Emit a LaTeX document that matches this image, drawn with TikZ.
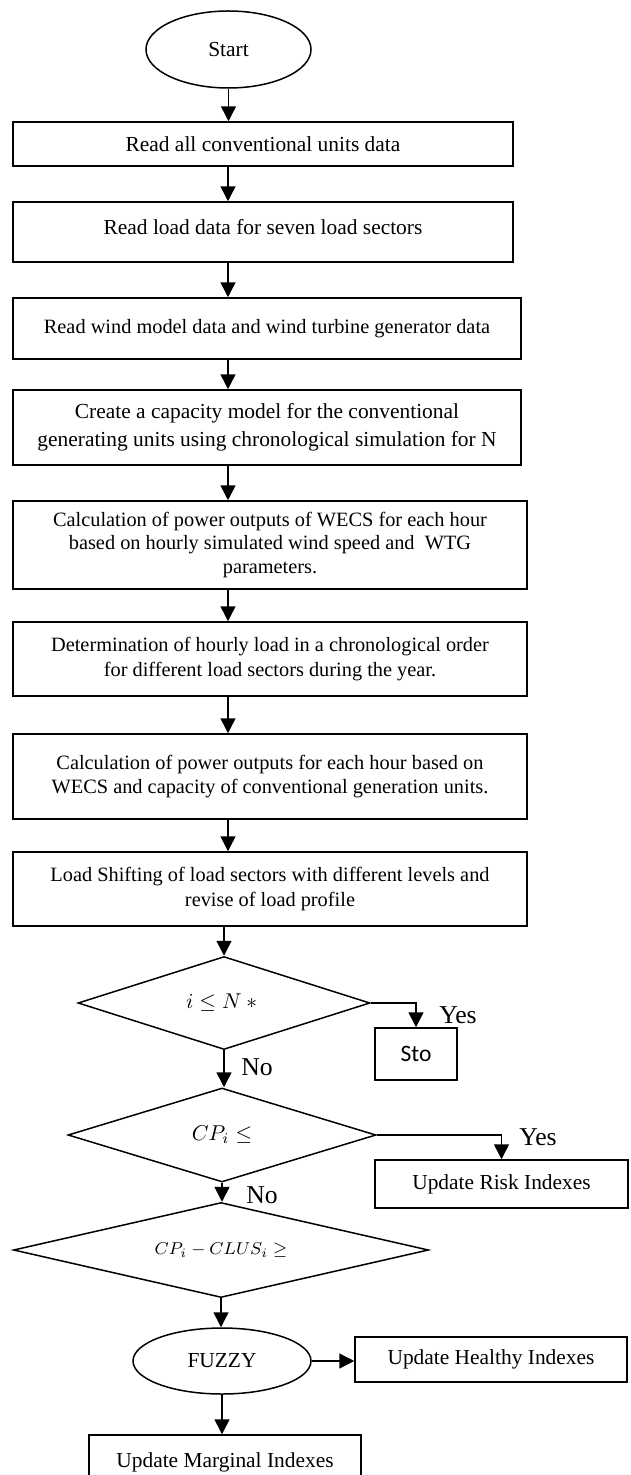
\documentclass[tikz,border=0pt]{standalone}
\usepackage{fontspec}
\setmainfont{Liberation Serif}
\newfontfamily\stofont{Carlito}
\usetikzlibrary{arrows.meta,shapes.geometric,calc}
\newcommand{\Upx}{0.467pt}

\begin{document}
\begin{tikzpicture}[x=\Upx,y=-\Upx,line width=0.7pt,
  proc/.style={draw,rectangle,align=center,inner sep=0pt},
  term/.style={draw,ellipse,inner sep=0pt},
  decn/.style={draw,diamond,inner sep=0pt},
  flow/.style={-{Triangle[length=7pt,width=7pt]}},
  yesno/.style={font=\rmfamily\fontsize{12}{14}\selectfont},
  small/.style={font=\fontsize{9.5}{11.5}\selectfont}]
\useasboundingbox (0,0) rectangle (630,1475);

\node[term,minimum width=165*\Upx,minimum height=77*\Upx] (start) at (228.5,49.5) {Start};

\node[proc,minimum width=500*\Upx,minimum height=44*\Upx] (rdunits) at (263,144) {Read all conventional units data};
\node[proc,minimum width=500*\Upx,minimum height=60*\Upx,text depth=4.6pt] (rdload) at (263,232) {Read load data for seven load sectors};
\node[proc,small,minimum width=508*\Upx,minimum height=61*\Upx] (rdwind) at (267,328.5) {Read wind model data and wind turbine generator data};
\node[proc,minimum width=508*\Upx,minimum height=75*\Upx,font=\fontsize{10}{13}\selectfont] (capmod) at (267,427.5) {Create a capacity model for the conventional\\generating units using chronological simulation for N};
\node[proc,minimum width=514*\Upx,minimum height=88*\Upx,font=\fontsize{9.5}{10.8}\selectfont] (wecs) at (270,545) {Calculation of power outputs of WECS for each hour\\based on hourly simulated wind speed and~~WTG\\parameters.};
\node[proc,small,minimum width=514*\Upx,minimum height=74*\Upx] (hrload) at (270,659) {Determination of hourly load in a chronological order\\for different load sectors during the year.};
\node[proc,small,minimum width=514*\Upx,minimum height=85*\Upx] (pwout) at (270,776.5) {Calculation of power outputs for each hour based on\\WECS and capacity of conventional generation units.};
\node[proc,small,minimum width=514*\Upx,minimum height=74*\Upx] (ldshift) at (270,889) {Load Shifting of load sectors with different levels and\\revise of load profile};

\node[decn,aspect=3.14,minimum width=292*\Upx,minimum height=93*\Upx] (chkN) at (224,1003) {$i \leq N \mathbin{*}{}$};
\node[proc,minimum width=82*\Upx,minimum height=52*\Upx,font=\stofont\fontsize{11}{13}\selectfont] (sto) at (416,1054) {Sto};
\node[decn,aspect=3.28,minimum width=308*\Upx,minimum height=94*\Upx] (chkCP) at (222,1135) {$CP_i \leq$};
\node[proc,minimum width=253*\Upx,minimum height=48*\Upx] (risk) at (501.5,1184) {Update Risk Indexes};
\node[decn,aspect=4.37,minimum width=415*\Upx,minimum height=95*\Upx,font=\fontsize{8}{10}\selectfont] (chkCL) at (221,1250) {$CP_i - CLUS_i \geq$};

\node[term,minimum width=178*\Upx,minimum height=66*\Upx] (fuzzy) at (222,1361) {FUZZY};
\node[proc,minimum width=272*\Upx,minimum height=45*\Upx] (healthy) at (491,1359.5) {Update Healthy Indexes};
\node[proc,minimum width=272*\Upx,minimum height=55*\Upx] (marginal) at (225,1462.5) {Update Marginal Indexes};

\node[yesno] (yes1) at (458,1015) {Yes};
\node[yesno] (no1) at (257,1067) {No};
\node[yesno] (yes2) at (538,1137) {Yes};
\node[yesno] (no2) at (262,1195) {No};

\coordinate (col) at (228,0);
\draw[flow] (start.south) -- (start.south |- rdunits.north);
\draw[flow] (col |- rdunits.south) -- (col |- rdload.north);
\draw[flow] (col |- rdload.south) -- (col |- rdwind.north);
\draw[flow] (col |- rdwind.south) -- (col |- capmod.north);
\draw[flow] (col |- capmod.south) -- (col |- wecs.north);
\draw[flow] (col |- wecs.south) -- (col |- hrload.north);
\draw[flow] (col |- hrload.south) -- (col |- pwout.north);
\draw[flow] (col |- pwout.south) -- (col |- ldshift.north);
\draw[flow] (chkN.north |- ldshift.south) -- (chkN.north);

\draw[flow] (chkN.east) -| (sto.north);
\draw[flow] (chkN.south) -- (chkN.south |- chkCP.north);
\draw[flow] (chkCP.east) -| (risk.north);
\draw[flow] (chkCP.south) -- (chkCP.south |- chkCL.north);
\draw[flow] (chkCL.south) -- (chkCL.south |- fuzzy.north);
\draw[flow] (fuzzy.east) -- (fuzzy.east -| healthy.west);
\draw[flow] (fuzzy.south) -- (fuzzy.south |- marginal.north);

\end{tikzpicture}
\end{document}
